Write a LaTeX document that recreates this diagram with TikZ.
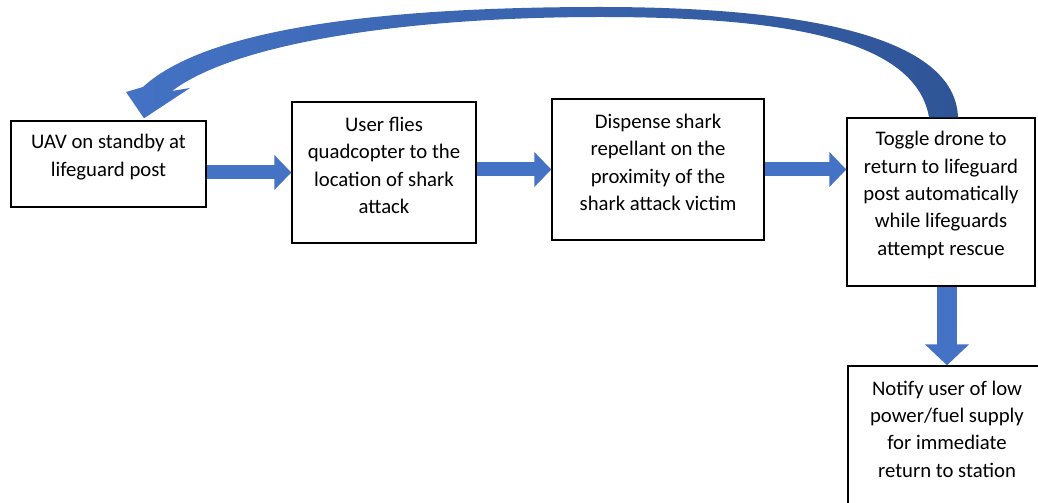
\documentclass[tikz,border=0pt]{standalone}
\usepackage{fontspec}
\setmainfont{Carlito}
\usepackage{xcolor}
\usetikzlibrary{arrows.meta}

\definecolor{arrowblue}{HTML}{4472C4}
\definecolor{arrowdark}{HTML}{2F5597}

\tikzset{
	stepbox/.style={draw=black, line width=0.8pt, fill=white, inner sep=0pt},
	boxtext/.style={align=center, font=\fontsize{11.8pt}{15.6pt}\selectfont, yshift=0.14cm},
	blockarrow/.style={draw=arrowblue, line width=0.28cm, -{Triangle[width=0.68cm,length=0.34cm]}},
	downarrow/.style={draw=arrowblue, line width=0.4cm, -{Triangle[width=0.86cm,length=0.42cm]}}
}

\begin{document}
\begin{tikzpicture}[x=0.02cm, y=-0.02cm]
	\useasboundingbox (0,0) rectangle (1038,503);
	\clip (0,0) rectangle (1038,503);

	% the five steps
	\node[stepbox, minimum width=3.9cm, minimum height=1.72cm, label={[boxtext]center:{UAV on standby at\\lifeguard post}}] (uav) at (108.5,164) {};
	\node[stepbox, minimum width=3.68cm, minimum height=2.82cm, label={[boxtext]center:{User flies\\quadcopter to the\\location of shark\\attack}}] (user) at (384,172.5) {};
	\node[stepbox, minimum width=4.24cm, minimum height=2.82cm, label={[boxtext]center:{Dispense shark\\repellant on the\\proximity of the\\shark attack victim}}] (disp) at (658,169.5) {};
	\node[stepbox, minimum width=3.76cm, minimum height=3.36cm, label={[boxtext]center:{Toggle drone to\\return to lifeguard\\post automatically\\while lifeguards\\attempt rescue}}] (toggle) at (941,202) {};
	\node[stepbox, minimum width=3.96cm, minimum height=2.8cm, label={[boxtext]center:{Notify user of low\\power/fuel supply\\for immediate\\return to station}}] (notify) at (947,436) {};

	% block arrows
	\draw[blockarrow] (uav.east |- user.west) -- (user.west);
	\draw[blockarrow] (user.east |- disp.west) -- (disp.west);
	\draw[blockarrow] (disp.east) -- (disp.east -| toggle.west);
	\draw[downarrow] (notify.north |- toggle.south) -- (notify.north);

	% loop back to standby
	\path[left color=arrowblue, right color=arrowdark]
		([xshift=0.34cm]toggle.north) .. controls (955,30) and (780,7) .. (600,7)
		.. controls (400,7) and (210,25) .. (143,87)
		-- (126,92) -- ([xshift=0.71cm,yshift=0.04cm]uav.north) -- (190,88) -- (172,91)
		.. controls (240,40) and (420,17) .. (600,17)
		.. controls (770,17) and (915,35) .. ([xshift=-0.24cm]toggle.north) -- cycle;
\end{tikzpicture}
\end{document}
